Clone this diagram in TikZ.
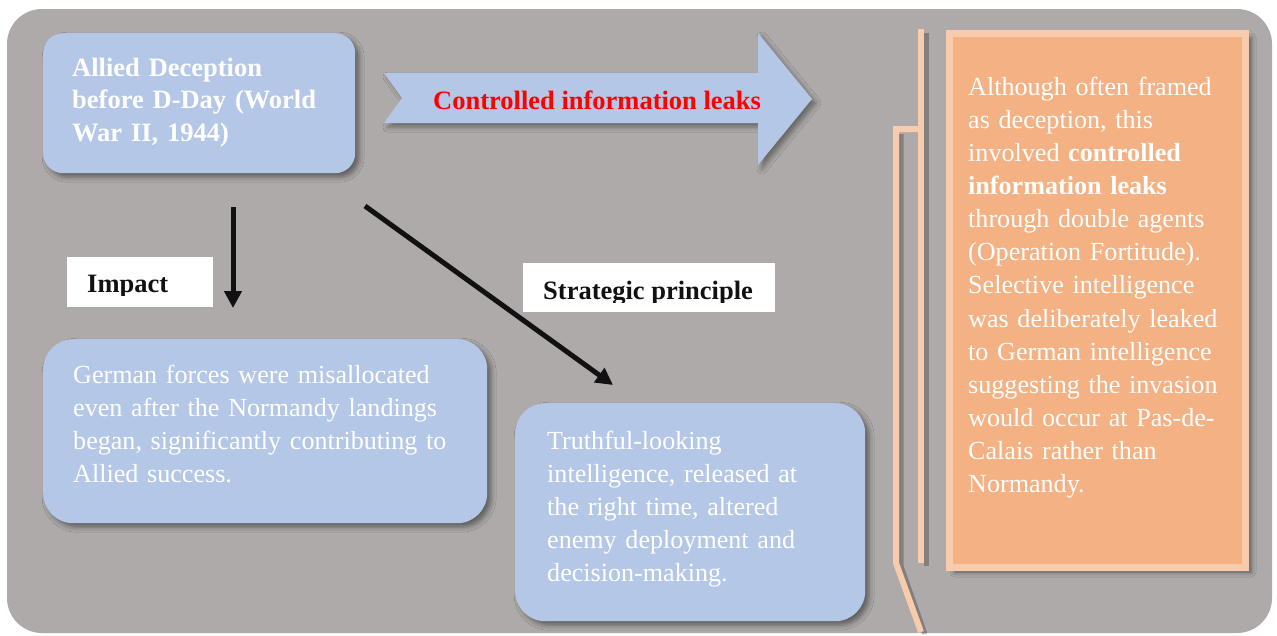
\documentclass[tikz,border=0pt]{standalone}
\usepackage{fontspec}
\setmainfont{Liberation Serif}
\usetikzlibrary{shadows.blur,arrows.meta}
\definecolor{bg}{HTML}{AEAAAA}
\definecolor{bluebox}{HTML}{B4C7E7}
\definecolor{orangebox}{HTML}{F4B183}
\definecolor{peach}{HTML}{F8CBAD}
\definecolor{ink}{HTML}{111111}
\tikzset{
  bbox/.style={fill=bluebox, rounded corners=#1, anchor=north west, inner sep=0pt,
    blur shadow={shadow xshift=4pt, shadow yshift=-4pt, shadow blur radius=5pt, shadow opacity=45}},
  wtxt/.style={text=white, font=\fontsize{26.1}{33.15}\selectfont, anchor=base west,
    align=left, text width=#1, inner sep=0pt},
  labbox/.style={fill=white, anchor=north west, inner sep=0pt},
  labtxt/.style={text=ink, font=\bfseries\fontsize{26.5}{33}\selectfont, anchor=base west, inner sep=0pt},
  conn/.style={ink, line width=5pt, -{Triangle[length=17pt,width=17pt]}},
  brk/.style={peach, line width=6pt},
  brkshadow/.style={black, opacity=0.25, line width=5pt},
}
\begin{document}
\begin{tikzpicture}[x=1pt,y=-1pt]
\fill[white] (0,0) rectangle (1277,635);
\useasboundingbox (0,0) rectangle (1277,635);
\fill[bg, rounded corners=35pt] (7,9) rectangle (1272,633);

% source box
\node[bbox=20pt, minimum width=312pt, minimum height=140pt] (src) at (43,33) {};
\node[wtxt=300pt, font=\bfseries\fontsize{26.5}{32.5}\selectfont] (srct) at (72,76)
  {Allied Deception\\before D-Day (World\\War II, 1944)};

% big arrow
\path[fill=bluebox, blur shadow={shadow xshift=4pt, shadow yshift=-4pt, shadow blur radius=5pt, shadow opacity=40}]
  (384,73) -- (758,73) -- (758,33) -- (812,99) -- (758,165) -- (758,123) -- (384,123) -- (402,98) -- cycle;
\node[font=\bfseries\fontsize{26.5}{33}\selectfont, text=red, anchor=base west, inner sep=0pt] (leak) at (433,109)
  {Controlled information leaks};

% impact box and text
\node[bbox=30pt, minimum width=444pt, minimum height=184pt] (imp) at (43,339) {};
\node[wtxt=420pt] (impt) at (73,383)
  {German forces were misallocated\\even after the Normandy landings\\began, significantly contributing to\\Allied success.};

% principle box and text
\node[bbox=30pt, minimum width=350pt, minimum height=218pt] (prin) at (515,403) {};
\node[wtxt=320pt] (print) at (547,449)
  {Truthful-looking\\intelligence, released at\\the right time, altered\\enemy deployment and\\decision-making.};

% labels
\node[labbox, minimum width=146pt, minimum height=50pt] (implab) at (67,257) {};
\begin{scope}
  \clip (67,257) rectangle (213,295);
  \node[labtxt] (implabt) at (87,292) {Impact};
\end{scope}
\node[labbox, minimum width=252pt, minimum height=49pt] (prinlab) at (523,263) {};
\begin{scope}
  \clip (523,263) rectangle (775,302);
  \node[labtxt] (prinlabt) at (543,299) {Strategic principle};
\end{scope}

% connectors
\coordinate (v1) at (233,207);
\coordinate (v2) at (233,308);
\coordinate (d1) at (365,206);
\coordinate (d2) at (613,385);
\draw[conn] (v1) -- (v2);
\draw[conn] (d1) -- (d2);

% bracket
\draw[brkshadow] (926,33) -- (926,566);
\draw[brkshadow] (901,134) -- (901,566) -- (925,634);
\draw[brk] (921,29) -- (921,563);
\draw[brk] (921,129) -- (896,129) -- (896,563) -- (921,632);

% fact box
\node[fill=orangebox, draw=peach, line width=7pt, minimum width=296pt, minimum height=534pt,
  anchor=north west, inner sep=0pt,
  blur shadow={shadow xshift=6pt, shadow yshift=-5pt, shadow blur radius=5pt, shadow opacity=50}] (fact) at (945.5,29.5) {};
\node[wtxt=270pt] (factt) at (968,95)
  {Although often framed\\as deception, this\\involved \textbf{controlled}\\\textbf{information leaks}\\through double agents\\(Operation Fortitude).\\Selective intelligence\\was deliberately leaked\\to German intelligence\\suggesting the invasion\\would occur at Pas-de-\\Calais rather than\\Normandy.};
\end{tikzpicture}
\end{document}
